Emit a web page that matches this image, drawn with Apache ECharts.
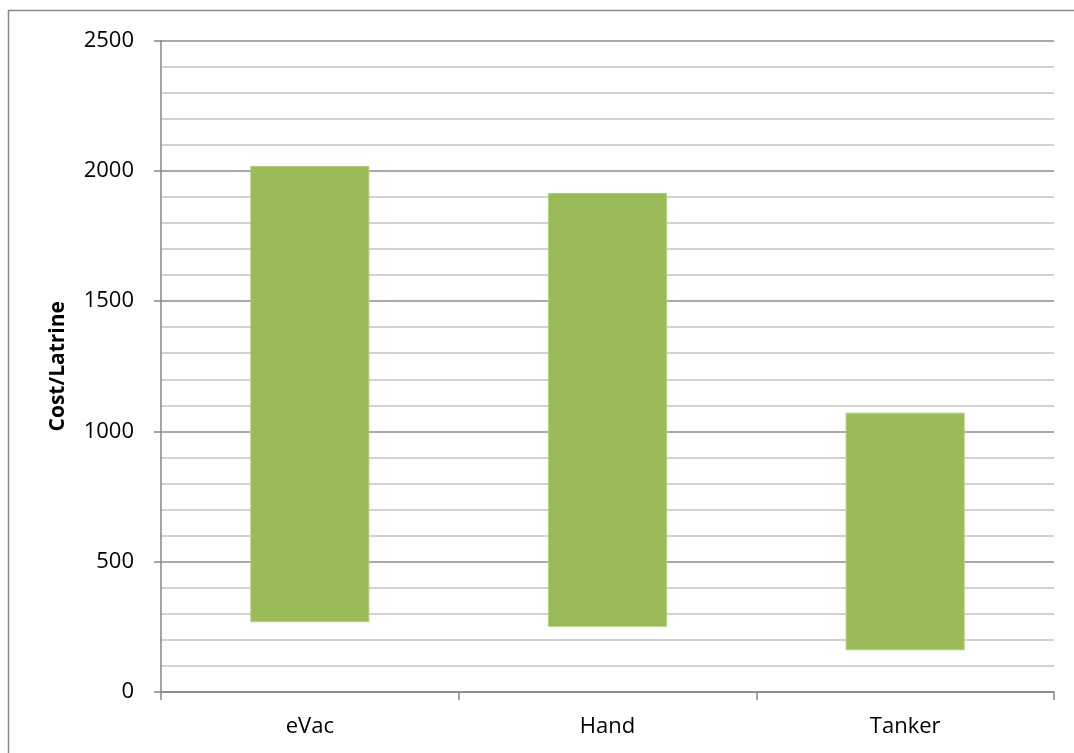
<!DOCTYPE html>
<html>
<head>
<meta charset="utf-8">
<script src="https://cdn.jsdelivr.net/npm/echarts@6/dist/echarts.min.js"></script>
<style>
html,body{margin:0;padding:0;background:#fff;}
#chart{width:1074px;height:753px;}
</style>
</head>
<body>
<div id="chart"></div>
<script>
const categories = ['eVac', 'Hand', 'Tanker'];
const lowValues = [268, 250, 160];
const highValues = [2019, 1915, 1072];
const yTicks = [0, 500, 1000, 1500, 2000, 2500];

const rangeValues = highValues.map((h, i) => h - lowValues[i]);
const fontFamily = '"Open Sans", "Noto Sans", "Liberation Sans", sans-serif';

const chart = echarts.init(document.getElementById('chart'), null, {renderer: 'canvas'});
chart.setOption({
  animation: false,
  backgroundColor: '#ffffff',
  graphic: [{
    type: 'rect',
    shape: {x: 8.5, y: 10.5, width: 1100, height: 800},
    style: {fill: 'none', stroke: '#868686', lineWidth: 1.5},
    silent: true
  }],
  grid: {left: 161, right: 20, top: 40.5, bottom: 61, containLabel: false},
  xAxis: {
    type: 'category',
    data: categories,
    boundaryGap: true,
    axisLine: {show: true, lineStyle: {color: '#868686', width: 1.5}},
    axisTick: {show: true, alignWithLabel: false, interval: 0, length: 8, lineStyle: {color: '#868686', width: 1.5}},
    axisLabel: {color: '#000', fontSize: 22, fontFamily: fontFamily, margin: 24},
    splitLine: {show: false}
  },
  yAxis: {
    type: 'value',
    min: yTicks[0],
    max: yTicks[yTicks.length - 1],
    interval: 500,
    name: 'Cost/Latrine',
    nameLocation: 'middle',
    nameGap: 92,
    nameRotate: 90,
    nameTextStyle: {color: '#000', fontSize: 21, fontWeight: 'bold', fontFamily: fontFamily},
    axisLine: {show: true, lineStyle: {color: '#868686', width: 1.5}},
    axisTick: {show: true, length: 7, lineStyle: {color: '#868686', width: 1.5}},
    axisLabel: {color: '#000', fontSize: 22, fontFamily: fontFamily, margin: 27,
      formatter: function (v) { return String(v); }},
    splitLine: {show: true, lineStyle: {color: '#8c8c8c', width: 1.5}},
    minorTick: {show: false, splitNumber: 5},
    minorSplitLine: {show: true, lineStyle: {color: '#c4c4c4', width: 1.5}}
  },
  series: [
    {
      type: 'bar',
      stack: 'range',
      data: lowValues,
      barWidth: '40%',
      itemStyle: {color: 'rgba(0,0,0,0)'},
      silent: true
    },
    {
      type: 'bar',
      stack: 'range',
      data: rangeValues,
      barWidth: '40%',
      itemStyle: {color: '#9BBB59', borderColor: '#b3cd83', borderWidth: 1}
    }
  ]
});
</script>
</body>
</html>
